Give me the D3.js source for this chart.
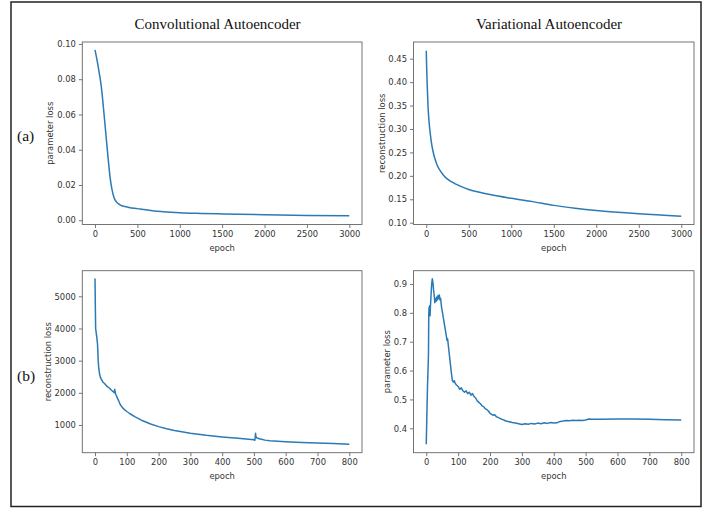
<!DOCTYPE html>
<html>
<head>
<meta charset="utf-8">
<script src="https://cdn.jsdelivr.net/npm/d3@7"></script>
<style>
  html, body { margin: 0; padding: 0; background: #fff; }
  svg { display: block; }
  .tick text { font-family: "DejaVu Sans", sans-serif; font-size: 8.4px; fill: #333; }
  .tick line { stroke: #555; stroke-width: 0.8; }
</style>
</head>
<body>
<script>
// ---------------- DATA ----------------
const colTitles = ["Convolutional Autoencoder", "Variational Autoencoder"];
const rowLabels = ["(a)", "(b)"];

// (a) Convolutional AE: parameter loss vs epoch
const convParamEpoch = [0,25,50,75,100,125,150,175,200,225,250,275,300,350,400,500,600,700,800,1000,1250,1500,2000,2500,3000];
const convParamLoss  = [0.0966,0.0905,0.0835,0.0755,0.0635,0.0505,0.0375,0.0255,0.0175,0.0128,0.0106,0.0094,0.0086,0.0078,0.0073,0.0066,0.0059,0.0053,0.0049,0.0043,0.0039,0.0036,0.0031,0.0027,0.0025];

// (a) Variational AE: reconstruction loss vs epoch
const vaeReconEpoch = [0,5,10,20,30,40,60,80,100,130,160,200,250,300,400,500,600,750,1000,1250,1500,1750,2000,2500,3000];
const vaeReconLoss  = [0.467,0.43,0.40,0.352,0.322,0.302,0.272,0.252,0.238,0.222,0.212,0.202,0.193,0.187,0.178,0.171,0.166,0.160,0.152,0.145,0.137,0.131,0.126,0.119,0.114];

// (b) Convolutional AE: reconstruction loss vs epoch
const convReconEpoch = [0,1,2,4,6,8,10,12,14,17,20,25,30,38,45,52,58,61,62,64,66,70,75,80,85,90,100,110,125,150,175,200,225,250,300,350,400,450,500,503,505,506,508,512,520,535,550,600,650,700,750,800];
const convReconLoss  = [5550,4700,4000,3850,3700,3500,3000,2750,2600,2480,2420,2330,2290,2200,2150,2080,2030,2000,2110,1990,1940,1850,1740,1620,1560,1500,1420,1350,1260,1130,1030,950,885,830,745,680,630,585,540,525,745,660,610,585,565,530,510,480,458,440,422,405];

// (b) Variational AE: parameter loss vs epoch
const vaeParamEpoch = [0,2,4,5,7,8,9,10,11,12,13,15,17,19,21,23,25,27,29,31,33,35,37,39,41,43,45,48,51,54,57,60,63,65,67,70,73,76,79,82,85,88,91,95,100,105,110,115,120,125,130,135,140,145,150,155,160,165,170,175,180,185,190,195,200,205,210,215,220,225,230,235,240,245,250,260,270,280,290,300,310,320,330,340,350,360,370,380,390,400,410,420,430,440,450,460,470,480,490,500,510,520,550,600,650,700,750,800];
const vaeParamLoss  = [0.345,0.45,0.55,0.58,0.66,0.80,0.82,0.80,0.825,0.79,0.82,0.86,0.90,0.918,0.905,0.88,0.86,0.835,0.85,0.84,0.855,0.845,0.86,0.85,0.862,0.845,0.85,0.82,0.80,0.78,0.76,0.74,0.72,0.705,0.71,0.68,0.65,0.62,0.59,0.565,0.56,0.565,0.555,0.55,0.545,0.535,0.54,0.53,0.525,0.53,0.52,0.525,0.515,0.52,0.51,0.505,0.495,0.49,0.485,0.478,0.475,0.468,0.465,0.46,0.452,0.448,0.445,0.447,0.44,0.438,0.435,0.432,0.43,0.428,0.425,0.423,0.42,0.418,0.416,0.413,0.416,0.414,0.417,0.415,0.418,0.416,0.419,0.417,0.42,0.418,0.419,0.424,0.425,0.427,0.426,0.428,0.427,0.428,0.427,0.429,0.432,0.431,0.431,0.432,0.432,0.431,0.430,0.429];

// tick labels
const xTicksLong  = [0,500,1000,1500,2000,2500,3000];
const xTicksShort = [0,100,200,300,400,500,600,700,800];
const yTicksConvParam = [0.00,0.02,0.04,0.06,0.08,0.10];
const yTicksVaeRecon  = [0.10,0.15,0.20,0.25,0.30,0.35,0.40,0.45];
const yTicksConvRecon = [1000,2000,3000,4000,5000];
const yTicksVaeParam  = [0.4,0.5,0.6,0.7,0.8,0.9];

// ---------------- DRAW ----------------
const W = 710, H = 508;
const svg = d3.select("body").append("svg").attr("width", W).attr("height", H);

svg.append("rect").attr("x", 11).attr("y", 2).attr("width", 690).attr("height", 504.5)
  .attr("fill", "none").attr("stroke", "#222").attr("stroke-width", 1.5);

const panels = [
  { x0: 82.3, x1: 362, y0: 42, y1: 224.5, xDom: [-150, 3150], yDom: [-0.0024, 0.1011],
    xs: convParamEpoch, ys: convParamLoss, xt: xTicksLong, yt: yTicksConvParam, yf: d3.format(".2f"),
    ylab: "parameter loss", curve: d3.curveMonotoneX, labX: 50.3 },
  { x0: 413.5, x1: 694, y0: 42, y1: 224.5, xDom: [-150, 3150], yDom: [0.0962, 0.4856],
    xs: vaeReconEpoch, ys: vaeReconLoss, xt: xTicksLong, yt: yTicksVaeRecon, yf: d3.format(".2f"),
    ylab: "reconstruction loss", curve: d3.curveMonotoneX, labX: 381.7 },
  { x0: 82.3, x1: 362, y0: 270.7, y1: 452.7, xDom: [-40, 840], yDom: [139, 5796],
    xs: convReconEpoch, ys: convReconLoss, xt: xTicksShort, yt: yTicksConvRecon, yf: d3.format("d"),
    ylab: "reconstruction loss", curve: d3.curveLinear, labX: 48.3 },
  { x0: 413.5, x1: 694, y0: 270.7, y1: 452.7, xDom: [-40, 840], yDom: [0.3155, 0.946],
    xs: vaeParamEpoch, ys: vaeParamLoss, xt: xTicksShort, yt: yTicksVaeParam, yf: d3.format(".1f"),
    ylab: "parameter loss", curve: d3.curveLinear, labX: 386.7 }
];

panels.forEach(p => {
  const x = d3.scaleLinear().domain(p.xDom).range([p.x0, p.x1]);
  const y = d3.scaleLinear().domain(p.yDom).range([p.y1, p.y0]);
  const g = svg.append("g");

  const xAxis = d3.axisBottom(x).tickValues(p.xt).tickFormat(d3.format("d")).tickSizeOuter(0).tickSize(3.5).tickPadding(3);
  const yAxis = d3.axisLeft(y).tickValues(p.yt).tickFormat(p.yf).tickSizeOuter(0).tickSize(3.5).tickPadding(3);
  const gx = g.append("g").attr("transform", `translate(0,${p.y1})`).call(xAxis);
  const gy = g.append("g").attr("transform", `translate(${p.x0},0)`).call(yAxis);
  gx.select(".domain").remove();
  gy.select(".domain").remove();
  gx.selectAll("text").attr("font-family", null).attr("font-size", null);
  gy.selectAll("text").attr("font-family", null).attr("font-size", null);

  const data = p.xs.map((d, i) => [d, p.ys[i]]);
  g.append("path").datum(data)
    .attr("fill", "none").attr("stroke", "#2a7ab6").attr("stroke-width", 1.5)
    .attr("stroke-linejoin", "round")
    .attr("d", d3.line().x(d => x(d[0])).y(d => y(d[1])).curve(p.curve));

  g.append("rect").attr("x", p.x0).attr("y", p.y0).attr("width", p.x1 - p.x0).attr("height", p.y1 - p.y0)
    .attr("fill", "none").attr("stroke", "#666").attr("stroke-width", 0.9);

  g.append("text").attr("x", (p.x0 + p.x1) / 2).attr("y", p.y1 + 26)
    .attr("text-anchor", "middle").attr("font-family", "DejaVu Sans, sans-serif")
    .attr("font-size", 8.4).attr("fill", "#333").text("epoch");

  const cy = (p.y0 + p.y1) / 2;
  g.append("text").attr("transform", `translate(${p.labX + 3},${cy}) rotate(-90)`)
    .attr("text-anchor", "middle").attr("font-family", "DejaVu Sans, sans-serif")
    .attr("font-size", 8.4).attr("fill", "#333").text(p.ylab);
});

// column titles
[217.5, 549].forEach((cx, i) => {
  svg.append("text").attr("x", cx).attr("y", 29).attr("text-anchor", "middle")
    .attr("font-family", "Liberation Serif, Times New Roman, serif").attr("font-size", 15)
    .attr("fill", "#111").text(colTitles[i]);
});
// row labels
[141, 381].forEach((by, i) => {
  svg.append("text").attr("x", 17).attr("y", by)
    .attr("font-family", "Liberation Serif, Times New Roman, serif").attr("font-size", 15.5)
    .attr("fill", "#111").text(rowLabels[i]);
});
</script>
</body>
</html>
